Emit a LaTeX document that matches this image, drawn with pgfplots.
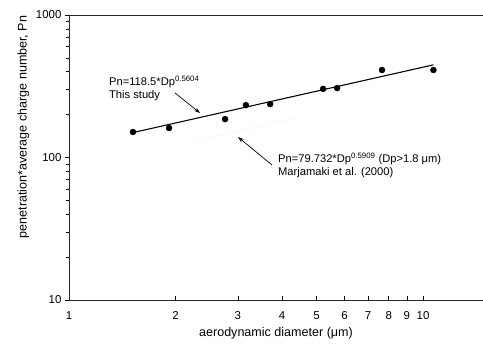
\documentclass[border=0pt]{standalone}
\usepackage{pgfplots}
\pgfplotsset{compat=1.18}
\usepackage{fontspec}
\setmainfont{Liberation Sans}
\usetikzlibrary{arrows.meta}
\begin{document}
\begin{tikzpicture}
\begin{axis}[
  scale only axis,
  width=414bp, height=285bp,
  xmode=log, ymode=log,
  xmin=1, xmax=14.77, ymin=10, ymax=1000,
  axis lines=left,
  axis line style={-, line width=0.9pt, black!85},
  xtick={1,2,3,4,5,6,7,8,9,10},
  xticklabels={1,2,3,4,5,6,7,8,9,10},
  ytick={10,100,1000},
  yticklabels={10,100,1000},
  minor ytick={20,30,40,50,60,70,80,90,200,300,400,500,600,700,800,900},
  minor xtick={},
  x tick style={black, line width=0.6pt},
  y tick style={black, line width=0.6pt},
  xtick align=inside,
  ytick align=outside,
  major tick length=4bp,
  minor tick length=3bp,
  tick label style={font=\fontsize{11.5}{13}\selectfont},
  xticklabel style={yshift=-8bp},
  label style={font=\fontsize{12.6}{14}\selectfont},
  xlabel={aerodynamic diameter (μm)},
  xlabel style={yshift=-1bp},
  ylabel={penetration*average charge number, Pn},
  ylabel style={at={(ticklabel cs:0.607)}},
  clip=false,
]
% This study data
\addplot[only marks, mark=*, mark size=3bp, black] coordinates {
  (1.516,151) (1.917,161) (2.76,186) (3.16,233) (3.70,237)
  (5.22,303) (5.72,307) (7.66,411) (10.7,411)
};
% fit: Pn = 118.5 Dp^0.5604
\addplot[black, line width=1.1pt] coordinates {(1.5,148.7) (10.7,447)};
% Marjamaki et al. (2000): Pn = 79.732 Dp^0.5909 (faint)
\addplot[black!15, dotted, line width=0.6pt] coordinates {(2.3,130.4) (4.4,191.4)};
% top border
\draw[line width=0.9pt, black!85] (rel axis cs:0,1) -- (rel axis cs:1,1);
% annotations
\node[anchor=west, align=left, inner sep=0pt, font=\fontsize{11.2}{13}\selectfont]
  at (axis cs:1.297,307.4) {Pn=118.5*Dp\textsuperscript{0.5604}\\This study};
\draw[-{Stealth[length=6bp,width=4bp]}, line width=0.7pt] (axis cs:1.993,283.6) -- (axis cs:2.345,205.3);
\node[anchor=west, align=left, inner sep=0pt, font=\fontsize{11.2}{13}\selectfont]
  at (axis cs:3.894,88.6) {Pn=79.732*Dp\textsuperscript{0.5909} (Dp{\char"003E}1.8 μm)\\Marjamaki et al. (2000)};
\draw[-{Stealth[length=6bp,width=4bp]}, line width=0.7pt] (axis cs:3.745,88.6) -- (axis cs:3.001,139.3);
\coordinate (bl) at (rel axis cs:0,0);
\end{axis}
\pgfresetboundingbox
\path (bl) ++(-69bp,-49bp) rectangle ++(483bp,349bp);
\end{tikzpicture}
\end{document}
